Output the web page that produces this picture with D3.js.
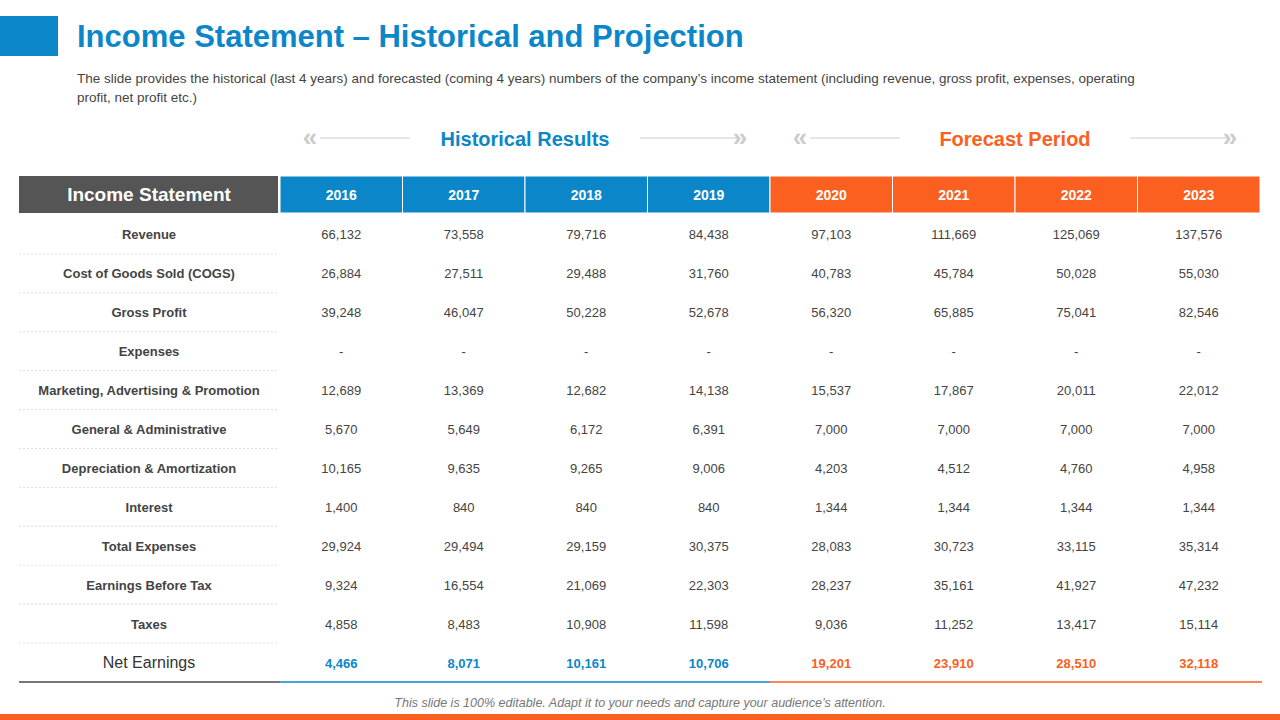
<!DOCTYPE html>
<html><head><meta charset="utf-8">
<script src="https://cdn.jsdelivr.net/npm/d3@7"></script>
<style>
body{margin:0;background:#fff;font-family:"Liberation Sans",Arial,sans-serif;}
.n{font-family:"Liberation Sans Narrow","Liberation Sans",Arial,sans-serif;}
</style></head>
<body><div id="mid"></div>
<script>
var years = ['2016','2017','2018','2019','2020','2021','2022','2023'];
var rowLabels = ['Revenue','Cost of Goods Sold (COGS)','Gross  Profit','Expenses','Marketing, Advertising & Promotion','General & Administrative','Depreciation & Amortization','Interest','Total Expenses','Earnings Before Tax','Taxes','Net Earnings'];
var revenue = ['66,132','73,558','79,716','84,438','97,103','111,669','125,069','137,576'];
var cogs = ['26,884','27,511','29,488','31,760','40,783','45,784','50,028','55,030'];
var grossProfit = ['39,248','46,047','50,228','52,678','56,320','65,885','75,041','82,546'];
var expenses = ['-','-','-','-','-','-','-','-'];
var marketing = ['12,689','13,369','12,682','14,138','15,537','17,867','20,011','22,012'];
var general = ['5,670','5,649','6,172','6,391','7,000','7,000','7,000','7,000'];
var depreciation = ['10,165','9,635','9,265','9,006','4,203','4,512','4,760','4,958'];
var interest = ['1,400','840','840','840','1,344','1,344','1,344','1,344'];
var totalExpenses = ['29,924','29,494','29,159','30,375','28,083','30,723','33,115','35,314'];
var ebt = ['9,324','16,554','21,069','22,303','28,237','35,161','41,927','47,232'];
var taxes = ['4,858','8,483','10,908','11,598','9,036','11,252','13,417','15,114'];
var netEarnings = ['4,466','8,071','10,161','10,706','19,201','23,910','28,510','32,118'];
var rows = [revenue,cogs,grossProfit,expenses,marketing,general,depreciation,interest,totalExpenses,ebt,taxes,netEarnings];

var blue='#0b87c9', orange='#fb6020', grey='#555';
var svg = d3.select('#mid').append('svg').attr('width',1280).attr('height',720);

// title bar
svg.append('rect').attr('x',0).attr('y',16).attr('width',58).attr('height',40).attr('fill',blue);
svg.append('text').attr('x',77).attr('y',47).attr('font-size',31).attr('font-weight','bold').attr('fill',blue)
  .text('Income Statement – Historical and Projection');
svg.append('text').attr('x',77).attr('y',83).attr('font-size',13.5).attr('fill','#444')
  .text('The slide provides the historical (last 4 years) and forecasted (coming 4 years) numbers of the company’s income statement (including revenue, gross profit, expenses, operating');
svg.append('text').attr('x',77).attr('y',102).attr('font-size',13.5).attr('fill','#444').text('profit, net profit etc.)');

var x = d3.scaleBand().domain(years).range([280,1260]);
var y = d3.scaleBand().domain(d3.range(rowLabels.length)).range([215,682]);

// section headings
[['Historical Results',blue,'2016','2019'],['Forecast Period',orange,'2020','2023']].forEach(function(s){
  var x0=x(s[2]), x1=x(s[3])+x.bandwidth(), cx=(x0+x1)/2;
  svg.append('text').attr('x',cx).attr('y',146).attr('text-anchor','middle').attr('font-size',20)
    .attr('font-weight','bold').attr('fill',s[1]).text(s[0]);
  svg.append('line').attr('x1',x0+40).attr('x2',x0+130).attr('y1',138).attr('y2',138).attr('stroke','#ccc');
  svg.append('line').attr('x1',x1-130).attr('x2',x1-30).attr('y1',138).attr('y2',138).attr('stroke','#ccc');
  svg.append('text').attr('x',x0+30).attr('y',146).attr('text-anchor','middle').attr('font-size',26).attr('font-weight','bold').attr('fill','#ccc').text('«');
  svg.append('text').attr('x',x1-30).attr('y',146).attr('text-anchor','middle').attr('font-size',26).attr('font-weight','bold').attr('fill','#ccc').text('»');
});

// header row
svg.append('rect').attr('x',19).attr('y',176).attr('width',259).attr('height',37).attr('fill',grey);
svg.append('text').attr('class','n').attr('x',149).attr('y',201).attr('text-anchor','middle').attr('font-size',19)
  .attr('font-weight','bold').attr('fill','#fff').text('Income Statement');
svg.selectAll('.yh').data(years).enter().append('rect')
  .attr('x',function(d){return x(d);}).attr('y',176).attr('width',x.bandwidth()).attr('height',37)
  .attr('fill',function(d,i){return i<4?blue:orange;}).attr('stroke','#fff').attr('stroke-width',1);
svg.selectAll('.yt').data(years).enter().append('text').attr('class','n')
  .attr('x',function(d){return x(d)+x.bandwidth()/2;}).attr('y',200).attr('text-anchor','middle')
  .attr('font-size',14).attr('font-weight','bold').attr('fill','#fff').text(function(d){return d;});

// rows
rowLabels.forEach(function(lab,r){
  var cy=y(r)+y.bandwidth()/2+5, last=r===rowLabels.length-1;
  svg.append('text').attr('x',149).attr('y',cy).attr('text-anchor','middle')
    .attr('font-size',last?16:13).attr('font-weight',last?'normal':'bold').attr('fill',last?'#333':'#444').text(lab);
  if(!last) svg.append('line').attr('x1',19).attr('x2',278).attr('y1',y(r)+y.bandwidth()).attr('y2',y(r)+y.bandwidth())
    .attr('stroke','#ddd').attr('stroke-dasharray','2,2');
  rows[r].forEach(function(v,i){
    svg.append('text').attr('x',x(years[i])+x.bandwidth()/2).attr('y',cy).attr('text-anchor','middle')
      .attr('font-size',13).attr('font-weight',last?'bold':'normal')
      .attr('fill',last?(i<4?blue:orange):'#444').text(v);
  });
});

// bottom lines
svg.append('line').attr('x1',19).attr('x2',280).attr('y1',682).attr('y2',682).attr('stroke','#777').attr('stroke-width',2);
svg.append('line').attr('x1',280).attr('x2',x('2020')).attr('y1',682).attr('y2',682).attr('stroke',blue).attr('stroke-width',1.5);
svg.append('line').attr('x1',x('2020')).attr('x2',1262).attr('y1',682).attr('y2',682).attr('stroke',orange).attr('stroke-width',1.5);

svg.append('text').attr('x',640).attr('y',707).attr('text-anchor','middle').attr('font-size',12.5)
  .attr('font-style','italic').attr('fill','#777')
  .text('This slide is 100% editable. Adapt it to your needs and capture your audience’s attention.');
svg.append('rect').attr('x',0).attr('y',714).attr('width',1280).attr('height',6).attr('fill',orange);
</script></body></html>
